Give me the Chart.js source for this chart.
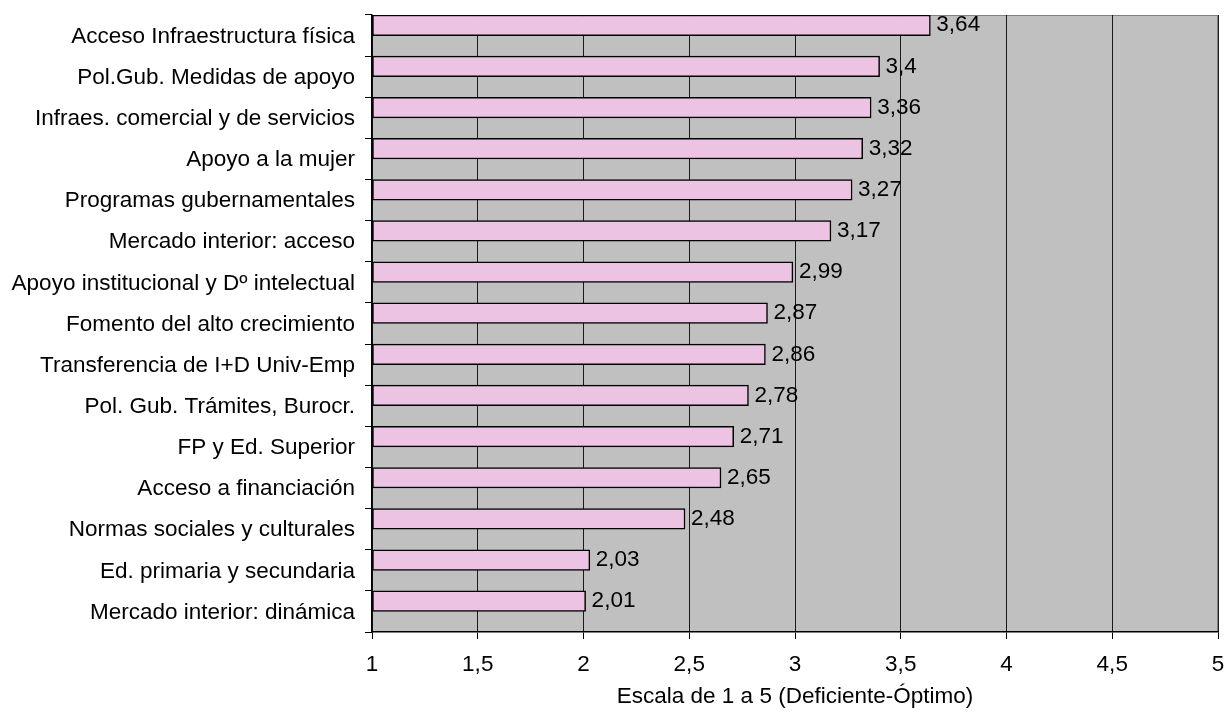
<!DOCTYPE html>
<html>
<head>
<meta charset="utf-8">
<script src="https://cdn.jsdelivr.net/npm/chart.js@4/dist/chart.umd.min.js"></script>
<style>
  html, body { margin: 0; padding: 0; background: #fff; }
  #wrap { width: 1226px; height: 718px; }
</style>
</head>
<body>
<div id="wrap"><canvas id="chart" width="1226" height="718"></canvas></div>
<script>
// Categories, top to bottom
const labels = [
    "Acceso Infraestructura física",
    "Pol.Gub. Medidas de apoyo",
    "Infraes. comercial y de servicios",
    "Apoyo a la mujer",
    "Programas gubernamentales",
    "Mercado interior: acceso",
    "Apoyo institucional y Dº intelectual",
    "Fomento del alto crecimiento",
    "Transferencia de I+D Univ-Emp",
    "Pol. Gub. Trámites, Burocr.",
    "FP y Ed. Superior",
    "Acceso a financiación",
    "Normas sociales y culturales",
    "Ed. primaria y secundaria",
    "Mercado interior: dinámica"
]

// Scores
const values = [3.64, 3.4, 3.36, 3.32, 3.27, 3.17, 2.99, 2.87, 2.86, 2.78, 2.71, 2.65, 2.48, 2.03, 2.01]

// Axis
const xMin = 1
const xMax = 5
const xStep = 0.5
const xTitle = "Escala de 1 a 5 (Deficiente-Óptimo)"

const FONT = "'Liberation Sans', Arial, sans-serif"
const FSIZE = 22.5
const comma = v => String(v).replace(".", ",")

// Gray plot background with a thin border
const plotBackground = {
    id: "plotBackground",
    beforeDraw(chart) {
        const { ctx, chartArea: a } = chart
        ctx.save()
        ctx.fillStyle = "#C0C0C0"
        ctx.fillRect(a.left, a.top, a.right - a.left, a.bottom - a.top)
        ctx.strokeStyle = "#808080"
        ctx.lineWidth = 1
        ctx.strokeRect(a.left + 0.5, a.top + 0.5, a.right - a.left - 1, a.bottom - a.top - 1)
        ctx.restore()
    }
}

// Value labels to the right of each bar
const valueLabels = {
    id: "valueLabels",
    afterDatasetsDraw(chart) {
        const { ctx } = chart
        const meta = chart.getDatasetMeta(0)
        ctx.save()
        ctx.font = FSIZE + "px " + FONT
        ctx.fillStyle = "#000"
        ctx.textAlign = "left"
        ctx.textBaseline = "middle"
        meta.data.forEach((bar, i) => {
            ctx.fillText(comma(values[i]), bar.x + 6, bar.y)
        })
        ctx.restore()
    }
}

const chart = new Chart(document.getElementById("chart"), {
    type: "bar",
    data: {
        labels,
        datasets: [
            {
                label: "Valor",
                data: values,
                base: xMin,
                backgroundColor: "#EDC3E3",
                borderColor: "#000",
                borderWidth: 1.5,
                borderSkipped: false
            },
            {
                // empty second series keeps the bars in the upper half of each row
                label: "",
                data: values.map(() => null)
            }
        ]
    },
    options: {
        indexAxis: "y",
        responsive: false,
        animation: false,
        categoryPercentage: 1,
        barPercentage: 1,
        layout: { padding: { top: 15, right: 8, bottom: 0, left: 0 } },
        plugins: {
            legend: { display: false },
            tooltip: { enabled: false }
        },
        scales: {
            x: {
                min: xMin,
                max: xMax,
                afterFit: s => { s.height = 86; s.paddingLeft = 0; s.paddingRight = 0 },
                ticks: {
                    stepSize: xStep,
                    color: "#000",
                    font: { family: FONT, size: FSIZE },
                    padding: 12,
                    maxRotation: 0,
                    callback: v => comma(v)
                },
                grid: { color: "#1a1a1a", lineWidth: 1, tickLength: 7, tickColor: "#000" },
                border: { color: "#000", width: 1.5 },
                title: {
                    display: true,
                    text: xTitle,
                    color: "#000",
                    font: { family: FONT, size: FSIZE },
                    padding: { top: 0, bottom: 8 }
                }
            },
            y: {
                afterFit: s => { s.width = 372; s.paddingTop = 0; s.paddingBottom = 0 },
                ticks: {
                    color: "#000",
                    font: { family: FONT, size: FSIZE },
                    padding: 10,
                    labelOffset: 1
                },
                grid: { drawOnChartArea: false, tickLength: 7, tickColor: "#000", offset: true },
                border: { color: "#000", width: 1.5 }
            }
        }
    },
    plugins: [plotBackground, valueLabels]
})
</script>
</body>
</html>
